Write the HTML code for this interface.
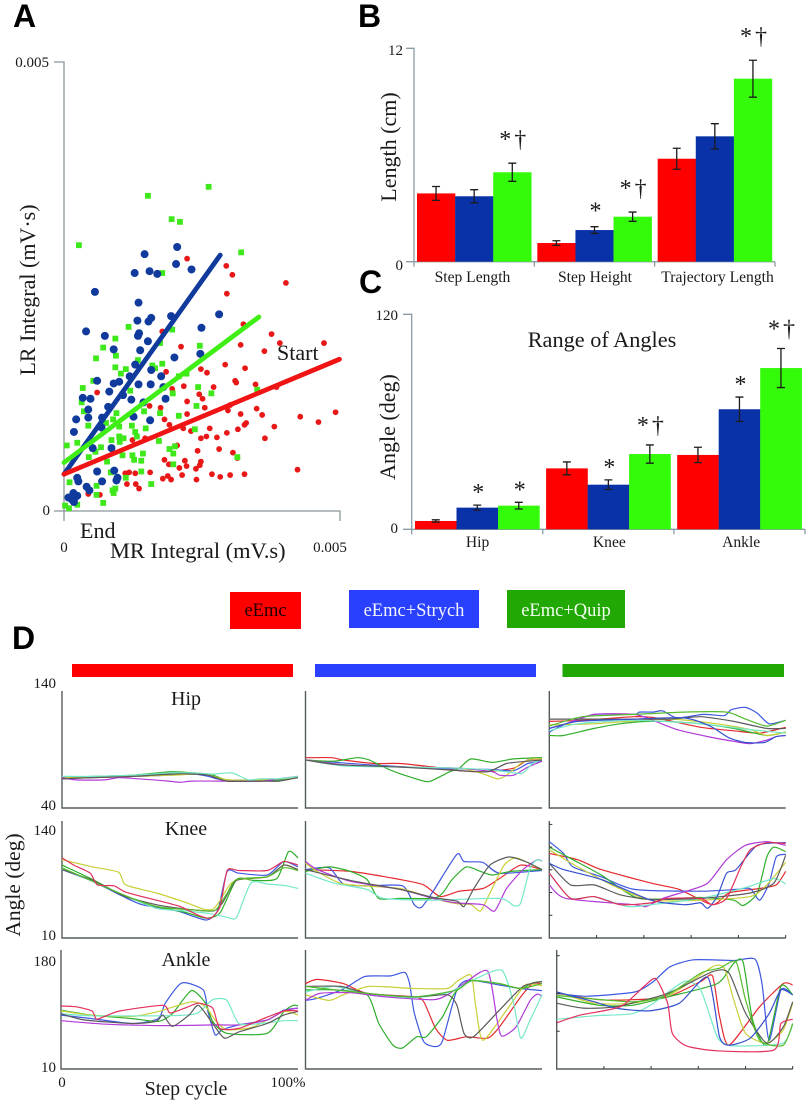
<!DOCTYPE html>
<html lang="en">
<head>
<meta charset="utf-8">
<title>Locomotor kinematics figure</title>
<style>
html,body{margin:0;padding:0;background:#fff;}
svg{display:block;filter:blur(0.3px);}
text{font-family:"Liberation Serif",serif;fill:#1a1a1a;}
.letter{font-family:"Liberation Sans",sans-serif;font-weight:bold;font-size:32px;fill:#000;}
</style>
</head>
<body>
<svg id="figure" xmlns="http://www.w3.org/2000/svg" width="807" height="1101" viewBox="0 0 807 1101">
  <rect x="0" y="0" width="807" height="1101" fill="#fff"/>
  <text class="letter" x="13" y="27">A</text>
  <text class="letter" x="358" y="27">B</text>
  <text class="letter" x="359" y="293">C</text>
  <text class="letter" x="12" y="649">D</text>

  <g id="scatter"></g>
  <text x="35" y="290" font-size="22" text-anchor="middle" transform="rotate(-90 35 290)">LR Integral (mV·s)</text>
  <text x="110" y="558" font-size="22.4">MR Integral (mV.s)</text>
  <text x="80" y="538" font-size="22">End</text>
  <text x="277" y="360" font-size="22">Start</text>

  <g id="barsB"></g>
  <text x="396" y="147" font-size="22" text-anchor="middle" transform="rotate(-90 396 147)">Length (cm)</text>

  <g id="barsC"></g>
  <text x="395" y="427" font-size="22" text-anchor="middle" transform="rotate(-90 395 427)">Angle (deg)</text>
  <text x="602" y="347" font-size="22.3" text-anchor="middle">Range of Angles</text>

  <g>
    <rect x="230" y="592" width="71" height="37" fill="#ff0000"/>
    <text x="265.5" y="616" font-size="18.5" text-anchor="middle" style="fill:#200000">eEmc</text>
    <rect x="349" y="590" width="130" height="38" fill="#2a40ff"/>
    <text x="414" y="616" font-size="18.5" text-anchor="middle" style="fill:#f2f4ff">eEmc+Strych</text>
    <rect x="507" y="590" width="118" height="38" fill="#22a804"/>
    <text x="566" y="616" font-size="18.5" text-anchor="middle" style="fill:#f2fff0">eEmc+Quip</text>
  </g>
  <rect x="72" y="664" width="221" height="13" fill="#ff0000"/>
  <rect x="315" y="664" width="221" height="13" fill="#2a40ff"/>
  <rect x="562.5" y="664" width="221.5" height="13" fill="#22a804"/>

  <g id="traces"></g>
  <text x="186" y="705" font-size="20" text-anchor="middle">Hip</text>
  <text x="186" y="835" font-size="20" text-anchor="middle">Knee</text>
  <text x="186" y="966" font-size="20" text-anchor="middle">Ankle</text>
  <text x="20" y="885" font-size="21.5" text-anchor="middle" transform="rotate(-90 20 885)">Angle (deg)</text>
  <text x="186" y="1095" font-size="20" text-anchor="middle">Step cycle</text>
  <text x="62" y="1087" font-size="15" text-anchor="middle">0</text>
  <text x="288" y="1087" font-size="15" text-anchor="middle">100%</text>
</svg>
<script>
// ---------- Panel A: values in units of 1e-5 mV·s (x, y pairs)
const redPoints = [[223,281],[294,273],[305,263],[402,254],[295,242],[325,208],[376,197],[391,187],[471,187],[320,185],[363,178],[212,183],[178,200],[292,163],[328,159],[248,158],[259,154],[185,155],[310,145],[312,143],[347,141],[271,138],[217,139],[196,136],[385,138],[60,132],[245,130],[251,125],[223,122],[155,117],[175,115],[255,115],[349,114],[301,118],[297,112],[223,108],[320,108],[359,107],[492,110],[428,105],[461,99],[182,102],[191,96],[330,98],[327,96],[381,94],[264,92],[315,91],[216,92],[230,89],[295,87],[277,82],[258,83],[248,81],[364,81],[147,81],[124,79],[205,73],[281,69],[242,67],[306,65],[314,59],[182,57],[219,56],[248,55],[246,51],[222,50],[190,52],[209,48],[239,47],[423,46],[327,41],[301,40],[283,38],[268,41],[214,40],[188,39],[179,36],[194,35],[240,35],[156,43],[129,42],[118,43],[111,42],[114,30],[130,30],[136,25],[44,19],[65,18]];
const greenPoints = [[262,361],[152,351],[195,325],[210,322],[27,296],[321,288],[178,265],[117,205],[196,202],[93,192],[71,182],[246,184],[174,187],[58,170],[94,173],[134,168],[178,164],[160,162],[165,159],[93,160],[112,158],[103,153],[53,145],[222,153],[208,150],[34,137],[243,138],[120,134],[267,131],[197,131],[350,135],[32,121],[240,117],[145,111],[95,109],[36,111],[174,109],[208,106],[44,95],[89,102],[76,98],[123,95],[148,92],[237,91],[129,88],[100,94],[132,83],[86,79],[100,83],[108,81],[101,77],[172,78],[5,73],[24,76],[67,71],[57,66],[201,72],[191,69],[198,64],[143,64],[124,62],[45,60],[127,57],[140,56],[106,62],[78,55],[314,60],[198,52],[140,44],[85,43],[112,37],[10,32],[158,30],[59,28],[93,25],[88,23],[90,20],[59,18],[71,9],[2,6],[9,3],[24,7]];
const bluePoints = [[205,294],[146,286],[203,275],[231,269],[128,265],[155,267],[169,264],[56,244],[135,232],[281,219],[194,217],[133,212],[153,211],[158,215],[249,204],[40,200],[74,195],[136,198],[134,195],[152,189],[90,180],[138,179],[247,175],[200,171],[129,163],[158,157],[176,150],[60,145],[90,142],[100,144],[119,150],[135,141],[157,141],[180,138],[82,133],[107,129],[34,126],[48,125],[122,124],[184,125],[144,121],[80,116],[44,113],[44,104],[22,102],[126,105],[156,101],[69,104],[68,93],[18,88],[52,70],[86,70],[60,44],[91,45],[24,37],[26,33],[69,33],[97,37],[95,34],[41,27],[46,23],[17,20],[8,15],[20,15],[14,13],[18,10],[24,17]];
const blueTrend = [[0,41],[283,285]];
const greenTrend = [[0,54],[353,216]];
const redTrend = [[0,41],[499,169]];
const scatterXTicks = ['0','0.005'];
const scatterYTicks = ['0','0.005'];

// ---------- Panels B and C: bar values, errors, significance marks
const bCategories = ['Step Length','Step Height','Trajectory Length'];
const bTicks = ['0','12'];
const bRed = [3.84,1.05,5.79];
const bBlue = [3.68,1.78,7.05];
const bGreen = [5.03,2.53,10.29];
const bRedErr = [0.39,0.13,0.59];
const bBlueErr = [0.37,0.19,0.71];
const bGreenErr = [0.51,0.26,1.04];
const bRedMarks = ['','',''];
const bBlueMarks = ['','*',''];
const bGreenMarks = ['*†','*†','*†'];

const cCategories = ['Hip','Knee','Ankle'];
const cTicks = ['0','120'];
const cRed = [4.65,34,41.5];
const cBlue = [12.1,24.9,67];
const cGreen = [13.2,42,90];
const cRedErr = [0.65,3.6,4.3];
const cBlueErr = [1.4,2.7,6.8];
const cGreenErr = [1.86,5.1,10.9];
const cRedMarks = ['','',''];
const cBlueMarks = ['*','*','*'];
const cGreenMarks = ['*','*†','*†'];

// ---------- Panel D: each trace is a flat list of cycle %, angle (deg), cycle %, angle ...
// Trace order in every panel: animal 1..10 (null where that trace is not shown)
const hipEmc = [
 [0,65,13,66,30,67,46,69,56,69,62,68,70,63,84,63,92,64,100,66],
 [0,65,22,67,32,67,45,68,56,69,62,67,68,64,84,63,100,66],
 [0,66,13,67,30,68,46,71,56,70,64,68,70,64,84,64,92,64,100,66],
 [0,66,30,67,46,68,60,69,70,64,85,64,100,66],
 [0,66,6,64,18,64,24,66,32,65,45,63,50,62,55,63,66,63,84,63,92,65,100,67],
 [0,67,13,67,30,68,46,70,56,70,64,69,72,70,79,64,84,65,92,65,100,67],
 [0,65,13,66,30,67,46,69,56,69,62,68,70,63,84,63,92,63,100,66]
];
const hipStrych = [
 [0,83,11,83,16,81,29,78,40,78,54,75,65,72,76,71,88,74,94,81,100,82],
 [0,81,26,77,54,74,77,73,88,72,94,78,100,80],
 [0,81,12,80,22,83,27,81,33,75,39,70,50,63,53,63,61,71,65,74,70,82,79,79,88,82,100,83],
 [0,81,16,77,40,75,65,74,74,70,81,65,85,68,91,78,96,82,100,82],
 [0,81,16,77,40,75,65,74,79,71,82,68,88,68,94,75,100,80],
 [0,81,16,76,40,75,65,74,81,72,88,70,92,70,96,78,100,81],
 [0,81,14,77,40,75,65,72,77,71,85,78,94,80,100,81]
];
const hipQuip = [
 [0,114,14,115,36,118,45,117,64,109,78,106,89,104,100,109],
 [0,105,6,111,19,120,36,120,38,122,44,122,48,123,54,117,65,120,74,119,77,124,83,126,88,121,93,112,100,115],
 [0,102,6,102,19,108,30,112,41,114,49,114,64,112,78,108,92,102,100,105],
 [0,111,19,112,50,116,71,112,85,107,92,102,100,105],
 [0,108,7,112,19,120,36,120,45,114,54,107,67,101,78,97,85,95,92,98,96,101,100,102],
 [0,106,12,112,36,115,64,112,85,107,100,104],
 [0,116,19,116,50,116,64,118,78,114,92,108,100,108],
 [0,110,14,118,36,120,57,122,75,122,83,116,92,110,100,115],
 [0,108,12,114,36,116,57,117,68,110,76,100,83,96,91,96,96,101,100,102]
];
const kneeEmc = [
 null,
 [0,86,13,73,26,56,34,47,49,40,61,30,66,41,70,84,75,82,87,80,94,95,100,89],
 [0,91,13,75,26,57,40,45,53,38,61,32,67,38,74,75,81,74,91,76,96,106,100,99],
 [0,97,13,89,24,83,27,69,40,60,53,49,60,42,64,42,67,52,71,69,75,75,87,78,94,91,100,86],
 null,
 [0,87,13,73,26,58,40,43,53,40,63,37,70,33,74,33,80,71,87,70,95,68,100,65],
 [0,86,13,74,26,57,40,47,53,42,64,40,68,49,74,74,87,78,94,91,100,86],
 [0,88,13,73,26,58,40,45,57,41,65,41,70,60,74,75,87,78,94,88,100,85],
 null,
 [0,99,5,91,12,82,15,69,22,68,27,61,40,52,50,45,58,35,63,32,67,45,70,85,75,85,87,85,94,95,100,91]
];
const kneeStrych = [
 [0,86,19,84,40,75,50,69,57,56,65,62,75,65,82,76,91,91,100,86],
 [0,86,10,88,16,70,26,68,41,68,46,47,49,44,54,62,64,103,67,95,75,94,82,82,100,85],
 [0,84,10,89,19,84,26,75,31,54,40,54,54,54,58,60,62,75,68,89,74,84,79,80,87,84,100,86],
 [0,93,5,84,16,70,40,65,54,54,64,48,70,47,74,40,78,60,84,91,89,99,96,91,100,86],
 [0,95,5,86,19,73,40,64,54,54,64,49,75,47,80,40,85,65,92,86,98,97,100,95],
 [0,82,12,71,26,64,33,54,54,52,82,54,88,46,91,49,95,88,98,97,100,95],
 [0,86,19,74,40,64,54,55,64,51,67,45,71,64,78,91,86,100,93,95,100,86]
];
const kneeQuip = [
 [0,104,12,97,22,86,43,71,55,64,69,47,76,60,89,65,96,69,100,84],
 [0,117,6,104,10,89,22,78,36,64,64,62,79,64,85,65,89,52,93,71,96,100,100,103],
 [0,111,10,97,22,80,38,54,64,55,78,52,82,46,88,60,92,100,95,111,100,106],
 [0,108,12,89,28,67,43,52,64,52,85,56,92,69,100,94],
 [0,69,7,54,36,47,41,45,48,54,58,62,67,71,75,97,83,113,92,117,100,113],
 [0,82,9,54,19,56,33,45,43,47,64,54,83,66,95,76,100,70],
 [0,93,9,69,19,69,30,58,43,53,64,54,85,60,95,71,100,102],
 null,
 [0,93,6,86,22,75,43,52,57,47,64,49,67,43,71,56,75,82,79,86,88,113,100,116],
 [0,82,9,54,19,56,30,47,43,49,50,54,64,54,69,47,75,54,81,89,85,108,92,116,100,115]
];
const ankleEmc = [
 null,
 [0,87,13,82,30,75,41,82,44,104,51,133,60,123,62,92,65,59,68,66,75,73,87,80,94,94,100,97],
 [0,94,13,87,30,82,41,78,47,89,55,122,61,104,64,78,70,61,87,61,94,92,98,101,100,100],
 [0,93,13,87,30,85,41,92,55,106,61,99,65,80,70,66,81,70,94,92,100,87],
 [0,79,19,74,43,72,65,73,75,73,87,80,94,93,100,97],
 [0,89,13,86,44,86,57,89,64,109,70,108,75,75,84,75,94,79,100,79],
 [0,89,10,80,30,75,40,78,43,87,47,71,54,87,58,101,64,75,69,54,75,63,87,75,94,87,100,92],
 null,
 null,
 [0,100,6,99,13,93,15,81,19,86,25,93,43,101,46,90,53,98,58,104,64,97,67,68,75,68,84,80,94,93,100,93]
];
const ankleStrych = [
 [0,132,5,138,16,132,26,118,46,113,50,106,55,68,60,51,68,56,77,54,82,70,91,113,96,132,100,132],
 [0,108,5,111,16,124,25,142,36,143,42,148,44,132,46,90,50,49,55,42,58,51,64,123,69,137,82,130,91,125,100,122],
 [0,123,12,123,26,116,31,75,37,44,41,40,47,56,51,56,58,85,63,118,70,136,82,132,91,125,96,133,100,135],
 [0,116,10,108,16,116,27,128,46,125,60,125,64,135,70,144,72,99,75,51,85,94,93,130,100,129],
 [0,108,6,118,19,119,34,113,54,109,60,116,67,132,77,150,81,80,83,57,89,70,95,108,98,117,100,114],
 [0,120,12,128,26,118,46,112,61,120,72,139,83,151,88,104,91,54,95,80,100,116],
 [0,128,15,128,26,118,46,113,60,116,64,101,67,61,71,56,82,94,92,128,100,135],
 [0,128,26,118,46,113,64,123,70,136,82,132,91,125,100,132]
];
const ankleQuip = [
 [0,118,18,109,32,109,47,113,61,135,66,143,69,85,73,44,86,99,96,132,100,130],
 [0,118,13,114,33,120,41,135,48,156,58,166,75,165,84,167,87,132,90,51,95,123,100,116],
 [0,113,18,101,32,101,47,113,68,132,75,161,79,163,83,80,89,44,95,128,100,116],
 [0,120,16,104,32,104,49,118,66,156,71,154,75,109,80,61,89,47,96,66,100,104],
 null,
 [0,81,16,86,32,89,41,104,54,135,61,123,68,56,73,44,82,43,96,47,100,73],
 [0,104,11,97,25,99,47,118,66,149,73,147,80,90,89,47,96,70,100,106],
 [0,115,32,106,47,116,61,147,69,154,76,163,80,109,86,51,96,44,100,75],
 [0,120,16,106,25,97,39,93,52,104,64,141,69,56,73,44,82,54,90,89,95,123,100,116],
 [0,76,10,87,27,99,37,128,42,139,47,104,49,61,55,43,68,36,92,37,95,75,100,81]
];
const hipTicks = ['40','140'];
const kneeTicks = ['10','140'];
const ankleTicks = ['10','180'];

// ---------- Drawing
const NS = 'http://www.w3.org/2000/svg';
function make(tag, attrs, parent) {
  const node = document.createElementNS(NS, tag);
  for (const k in attrs) node.setAttribute(k, attrs[k]);
  parent.appendChild(node);
  return node;
}
function tickText(label, x, y, anchor, size, parent) {
  const t = make('text', {x: x, y: y, 'font-size': size, 'text-anchor': anchor}, parent);
  t.textContent = label;
  return t;
}

// Panel A axes
const scatter = document.getElementById('scatter');
const xScatter = v => 64 + v / 500 * 276;
const yScatter = v => 511 - v / 500 * 449;
const AXIS_A = '#8b979c';

let el = make('path', {d: `M54 ${yScatter(500)}H${xScatter(0)}V${yScatter(0) + 10}`, fill: 'none', stroke: AXIS_A, 'stroke-width': 1.3}, scatter);


el = make('path', {d: `M54 ${yScatter(0)}H${xScatter(500)}V${yScatter(0) + 10}`, fill: 'none', stroke: AXIS_A, 'stroke-width': 1.3}, scatter);


el = tickText(scatterYTicks[1], 49, 67, 'end', 15, scatter);


el = tickText(scatterYTicks[0], 50, 515, 'end', 15, scatter);


el = tickText(scatterXTicks[0], xScatter(0), 552, 'middle', 15, scatter);


el = tickText(scatterXTicks[1], 330, 552, 'middle', 15, scatter);



redPoints.forEach(p => {
  const dot = make('circle', {cx: xScatter(p[0]), cy: yScatter(p[1]), r: 2.9, fill: '#e81818'}, scatter);
  
  
});
greenPoints.forEach(p => {
  const sq = make('rect', {x: xScatter(p[0]) - 2.9, y: yScatter(p[1]) - 2.9, width: 5.8, height: 5.8, fill: '#3fe81a'}, scatter);
  
  
});
bluePoints.forEach(p => {
  const dot = make('circle', {cx: xScatter(p[0]), cy: yScatter(p[1]), r: 4, fill: '#103a9c'}, scatter);
  
  
});
function trend(pts, color, parent) {
  return make('line', {x1: xScatter(pts[0][0]), y1: yScatter(pts[0][1]), x2: xScatter(pts[1][0]), y2: yScatter(pts[1][1]), stroke: color, 'stroke-width': 4.8, 'stroke-linecap': 'round'}, parent);
}
el = trend(blueTrend, '#103a9c', scatter);


el = trend(greenTrend, '#3fee14', scatter);


el = trend(redTrend, '#f01414', scatter);



// Panels B and C
function drawBarPanel(parent, axis, categories, ticks, series) {
  const yOf = v => axis.y0 - v / axis.max * (axis.y0 - axis.yTop);
  const groupW = (axis.xEnd - axis.x0) / categories.length;
  const colors = ['#ff0000', '#0a32a8', '#33fb0a'];
  const names = ['eemc', 'strych', 'quip'];
  let node = make('path', {d: `M${axis.tickLeft} ${axis.yTop}H${axis.x0}V${axis.y0}`, fill: 'none', stroke: '#8b9ba6', 'stroke-width': 1.3}, parent);
  
  
  node = make('path', {d: `M${axis.tickLeft} ${axis.y0}H${axis.xEnd}`, fill: 'none', stroke: '#8b9ba6', 'stroke-width': 1.3}, parent);
  
  
  for (let g = 0; g <= categories.length; g++) {
    const tx = axis.x0 + g * groupW;
    node = make('line', {x1: tx, x2: tx, y1: axis.y0, y2: axis.y0 + 5, stroke: '#8b9ba6', 'stroke-width': 1.3}, parent);
    
    
  }
  node = tickText(ticks[1], axis.tickRight, axis.tickTopY, 'end', 15, parent);
  
  
  node = tickText(ticks[0], axis.tickRight, axis.tickZeroY, 'end', 15, parent);
  
  
  categories.forEach((cat, g) => {
    const gx = axis.x0 + g * groupW + axis.pad;
    const bw = (groupW - 2 * axis.pad) / 3;
    const lab = tickText(cat, axis.x0 + (g + 0.5) * groupW + axis.labelShift + (g - 1) * axis.labelSpread, axis.labelY, 'middle', 15.6, parent);
    
    
    series.forEach((s, i) => {
      const x = gx + i * bw, top = yOf(s.values[g]);
      const bar = make('rect', {x: x, y: top, width: bw + 0.2, height: axis.y0 - top, fill: colors[i]}, parent);
      
      
      const cx = x + bw / 2;
      const hi = yOf(s.values[g] + s.errors[g]), lo = yOf(s.values[g] - s.errors[g]);
      const eb = make('path', {d: `M${cx - 4} ${hi}H${cx + 4}M${cx} ${hi}V${lo}M${cx - 4} ${lo}H${cx + 4}`, fill: 'none', stroke: '#1c1c1c', 'stroke-width': 1.3}, parent);
      
      
      if (s.marks[g]) {
        const paired = s.marks[g].length > 1;
        const mk = make('text', {x: cx + (paired ? 2 : 1), y: hi - (paired ? axis.pairOffset : axis.singleOffset), 'font-size': 24, 'text-anchor': 'middle', 'letter-spacing': paired ? 3 : 0}, parent);
        mk.textContent = s.marks[g];
        
        
      }
    });
  });
}
drawBarPanel(document.getElementById('barsB'),
  {x0: 414, xEnd: 775, y0: 261.7, yTop: 48.3, max: 12, tickLeft: 406, tickRight: 403, tickTopY: 55, tickZeroY: 270, labelY: 282, pad: 3, labelShift: 0.5, labelSpread: 2.2, pairOffset: 16, singleOffset: 8},
  bCategories, bTicks,
  [{values: bRed, errors: bRedErr, marks: bRedMarks}, {values: bBlue, errors: bBlueErr, marks: bBlueMarks}, {values: bGreen, errors: bGreenErr, marks: bGreenMarks}]);
drawBarPanel(document.getElementById('barsC'),
  {x0: 411.7, xEnd: 805, y0: 529.3, yTop: 314.3, max: 120, tickLeft: 403, tickRight: 398, tickTopY: 320, tickZeroY: 533, labelY: 547, pad: 3.3, labelShift: 1, labelSpread: 0.7, pairOffset: 12, singleOffset: 5},
  cCategories, cTicks,
  [{values: cRed, errors: cRedErr, marks: cRedMarks}, {values: cBlue, errors: cBlueErr, marks: cBlueMarks}, {values: cGreen, errors: cGreenErr, marks: cGreenMarks}]);

// Panel D
const tracesRoot = document.getElementById('traces');
const animalColors = ['#e42a2e', '#3f58e0', '#2fae2a', '#c9cf38', '#b23ad8', '#74e8c8', '#5a5a5a', '#55bb2c', '#3450cc', '#e2305c'];
function drawTracePanel(traces, box, domain) {
  const xOf = pct => box.x0 + pct / 100 * (box.x1 - box.x0);
  const yOf = a => box.bottom - (a - domain[0]) / (domain[1] - domain[0]) * (box.bottom - box.top);
  let node = make('path', {d: `M${box.x0} ${box.top}V${box.bottom}H${box.x1}`, fill: 'none', stroke: '#555c5c', 'stroke-width': 1.4}, tracesRoot);
  
  
  traces.forEach((tr, idx) => {
    if (!tr) return;
    const px = [];
    for (let i = 0; i < tr.length; i += 2) px.push([xOf(tr[i]), yOf(tr[i + 1])]);
    let d = `M${px[0][0].toFixed(1)} ${px[0][1].toFixed(1)}`;
    for (let i = 0; i < px.length - 1; i++) {
      const a = px[Math.max(i - 1, 0)], b = px[i], c = px[i + 1], e = px[Math.min(i + 2, px.length - 1)];
      const k = 1 / 9;
      d += `C${(b[0] + (c[0] - a[0]) * k).toFixed(1)} ${(b[1] + (c[1] - a[1]) * k).toFixed(1)} ${(c[0] - (e[0] - b[0]) * k).toFixed(1)} ${(c[1] - (e[1] - b[1]) * k).toFixed(1)} ${c[0].toFixed(1)} ${c[1].toFixed(1)}`;
    }
    const path = make('path', {d: d, fill: 'none', stroke: animalColors[idx], 'stroke-width': 1.2, 'stroke-linejoin': 'round'}, tracesRoot);
    
    
  });
}
function innerTicks(box, xCount, yCount) {
  for (let i = 1; i <= xCount; i++) {
    const x = box.x0 + i / xCount * (box.x1 - box.x0);
    const t = make('line', {x1: x, x2: x, y1: box.bottom, y2: box.bottom - 3, stroke: '#333', 'stroke-width': 1}, tracesRoot);
    
    
  }
  for (let i = 1; i <= yCount; i++) {
    const y = box.bottom - i / (yCount + 0.15) * (box.bottom - box.top);
    const t = make('line', {x1: box.x0, x2: box.x0 + 3, y1: y, y2: y, stroke: '#333', 'stroke-width': 1}, tracesRoot);
    
    
  }
}
const rowHip = {top: 691, bottom: 808};
const rowKnee = {top: 821, bottom: 938};
const rowAnkle = {top: 950, bottom: 1069};
const hipDomain = [40, 140], kneeDomain = [10, 140], ankleDomain = [10, 180];
drawTracePanel(hipEmc, {x0: 62, x1: 298, top: rowHip.top, bottom: rowHip.bottom}, hipDomain);
drawTracePanel(hipStrych, {x0: 305.5, x1: 542, top: rowHip.top, bottom: rowHip.bottom}, hipDomain);
drawTracePanel(hipQuip, {x0: 549.3, x1: 785.7, top: rowHip.top, bottom: rowHip.bottom}, hipDomain);
drawTracePanel(kneeEmc, {x0: 62, x1: 298, top: rowKnee.top, bottom: rowKnee.bottom}, kneeDomain);
drawTracePanel(kneeStrych, {x0: 305.5, x1: 542, top: rowKnee.top, bottom: rowKnee.bottom}, kneeDomain);
const kneeQuipBox = {x0: 549.3, x1: 785.7, top: rowKnee.top, bottom: rowKnee.bottom};
drawTracePanel(kneeQuip, kneeQuipBox, kneeDomain);
innerTicks(kneeQuipBox, 5, 5);
drawTracePanel(ankleEmc, {x0: 61, x1: 298, top: rowAnkle.top, bottom: rowAnkle.bottom}, ankleDomain);
drawTracePanel(ankleStrych, {x0: 305.5, x1: 542, top: rowAnkle.top, bottom: rowAnkle.bottom}, ankleDomain);
const ankleQuipBox = {x0: 556.7, x1: 792.7, top: rowAnkle.top, bottom: rowAnkle.bottom};
drawTracePanel(ankleQuip, ankleQuipBox, ankleDomain);
innerTicks(ankleQuipBox, 5, 3);

el = tickText(hipTicks[1], 56, 688, 'end', 15, tracesRoot);


el = tickText(hipTicks[0], 56, 810, 'end', 15, tracesRoot);


el = tickText(kneeTicks[1], 56, 835, 'end', 15, tracesRoot);


el = tickText(kneeTicks[0], 56, 940, 'end', 15, tracesRoot);


el = tickText(ankleTicks[1], 56, 966, 'end', 15, tracesRoot);


el = tickText(ankleTicks[0], 56, 1072, 'end', 15, tracesRoot);


</script>
</body>
</html>
